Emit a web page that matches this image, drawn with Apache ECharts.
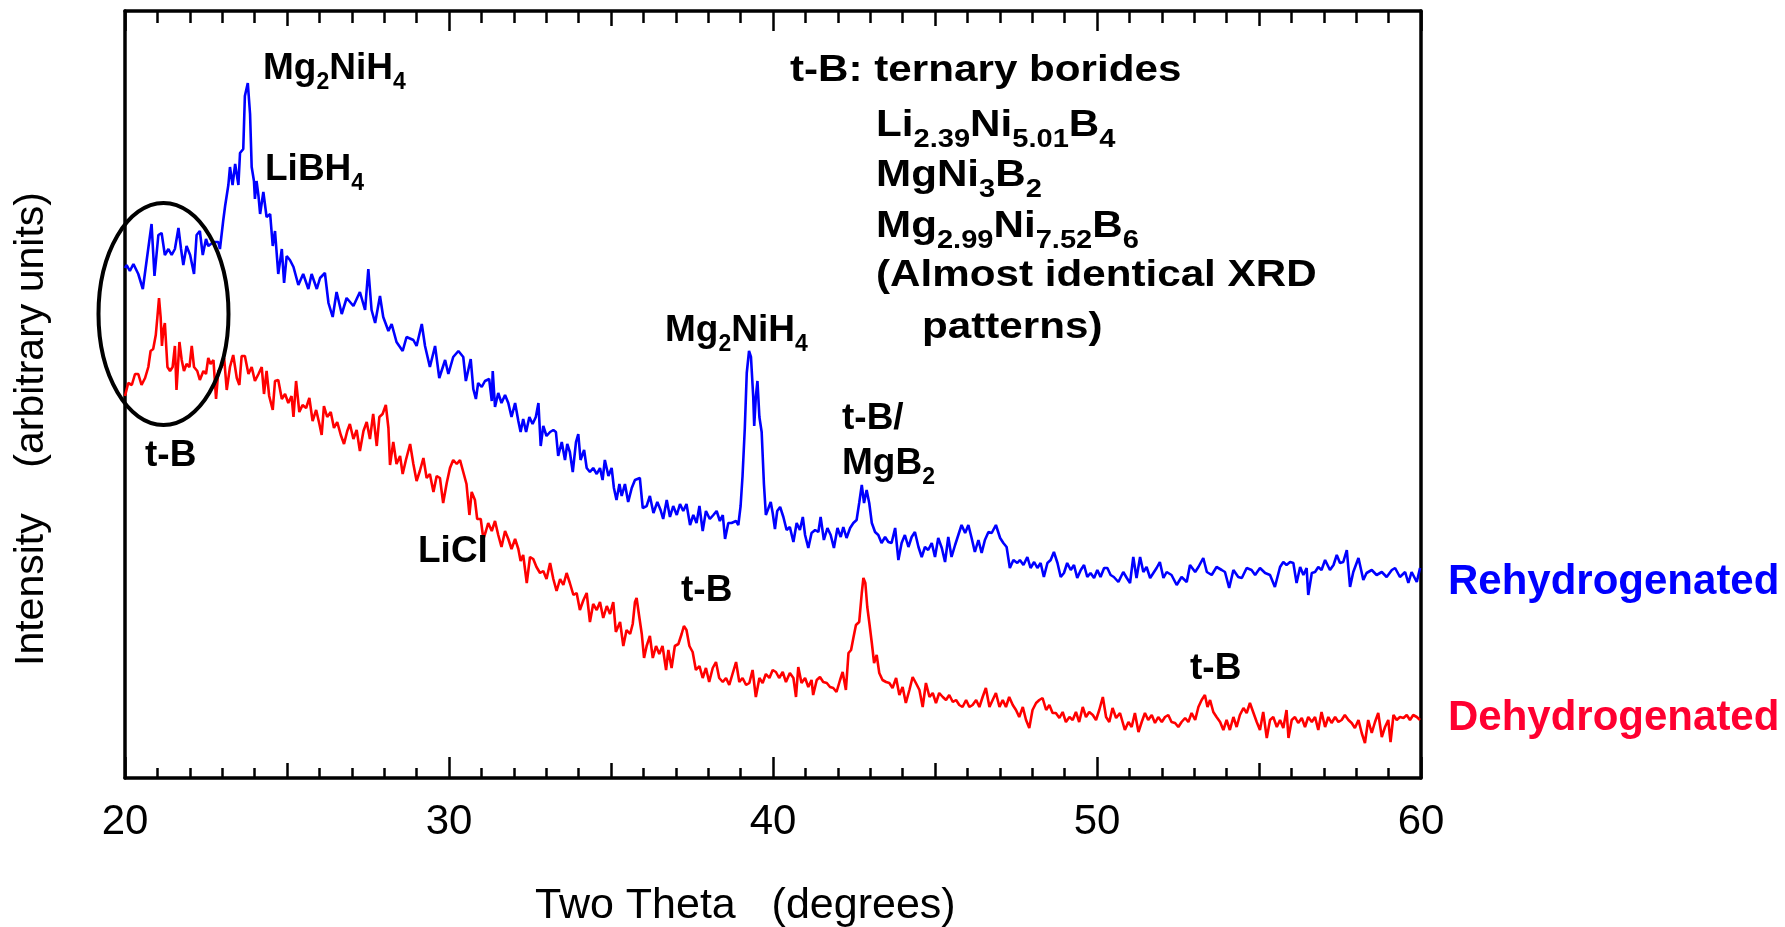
<!DOCTYPE html>
<html>
<head>
<meta charset="utf-8">
<script src="https://cdn.jsdelivr.net/npm/echarts/dist/echarts.min.js"></script>
<style>html,body{margin:0;padding:0;background:#fff}#c{width:1785px;height:927px}</style>
</head>
<body>
<div id="c"></div>
<script>
// ---- data (two theta in degrees, intensity in arbitrary units) ----
const thetaRange = [20, 60];
const xTickLabels = [20, 30, 40, 50, 60];

const rehydrogenated = [
[20.00,510],[20.05,513],[20.15,507],[20.26,514],[20.41,504],[20.55,489],[20.67,518],[20.82,554],[20.91,502],[21.03,543],
[21.13,545],[21.23,523],[21.34,529],[21.44,523],[21.54,529],[21.65,550],[21.73,529],[21.80,513],[21.90,532],[22.01,523],
[22.13,504],[22.21,543],[22.31,547],[22.40,523],[22.50,539],[22.57,532],[22.73,536],[22.88,536],[22.93,529],[23.03,557],
[23.09,572],[23.19,593],[23.24,611],[23.32,593],[23.40,614],[23.50,593],[23.55,625],[23.65,629],[23.70,682],[23.79,695],
[23.86,664],[23.91,611],[23.98,597],[24.01,579],[24.06,597],[24.12,582],[24.17,564],[24.27,586],[24.37,561],[24.48,564],
[24.56,532],[24.63,547],[24.73,504],[24.84,529],[24.91,495],[24.99,522],[25.09,518],[25.20,511],[25.35,493],[25.50,504],
[25.66,489],[25.76,504],[25.92,489],[26.02,500],[26.17,505],[26.28,475],[26.41,461],[26.53,486],[26.69,464],[26.84,480],
[27.05,472],[27.25,486],[27.41,468],[27.51,509],[27.61,468],[27.72,455],[27.87,482],[27.97,461],[28.13,447],[28.23,454],
[28.38,436],[28.57,427],[28.69,441],[28.90,438],[29.00,432],[29.16,454],[29.26,432],[29.41,411],[29.57,432],[29.70,400],
[29.88,418],[29.98,404],
[30.03,403],[30.13,421],[30.29,427],[30.44,421],[30.52,397],[30.67,419],[30.75,389],[30.83,379],[30.90,395],[31.01,391],
[31.11,397],[31.24,399],[31.32,377],[31.35,407],[31.42,371],[31.52,385],[31.62,375],[31.73,383],[31.83,375],[31.93,361],
[32.04,375],[32.14,357],[32.21,346],[32.29,359],[32.38,346],[32.48,361],[32.58,354],[32.68,361],[32.76,375],[32.83,332],
[32.91,352],[33.01,342],[33.12,346],[33.22,348],[33.30,346],[33.37,322],[33.48,336],[33.58,318],[33.65,334],[33.73,326],
[33.82,306],[33.92,336],[33.99,344],[34.06,318],[34.17,328],[34.25,310],[34.35,306],[34.45,310],[34.56,304],[34.66,310],
[34.74,298],[34.81,318],[34.92,302],[35.02,310],[35.09,290],[35.17,278],[35.26,294],[35.33,282],[35.43,294],[35.53,276],
[35.64,290],[35.74,298],[35.89,300],[35.98,270],[36.10,272],[36.20,282],[36.31,265],[36.43,276],[36.53,268],[36.61,259],
[36.72,278],[36.82,261],[36.92,272],[37.03,263],[37.13,274],[37.23,267],[37.33,274],[37.44,253],[37.54,263],[37.64,255],
[37.73,272],[37.83,247],[37.93,267],[38.05,259],[38.16,263],[38.26,267],[38.36,257],[38.45,263],[38.52,239],[38.62,255],
[38.72,255],[38.86,257],[38.93,253],[39.00,272],[39.06,302],[39.13,350],[39.19,405],[39.26,427],[39.32,421],[39.39,381],
[39.42,352],[39.47,381],[39.52,397],[39.58,361],[39.65,346],[39.72,294],[39.78,263],[39.85,269],[39.93,276],[39.99,265],
[40.06,249],[40.13,267],
[40.22,271],[40.32,261],[40.42,248],[40.52,251],[40.63,236],[40.73,255],[40.83,248],[40.92,261],[40.99,243],[41.09,230],
[41.19,245],[41.30,248],[41.40,246],[41.47,261],[41.57,238],[41.68,250],[41.78,243],[41.88,230],[41.99,250],[42.09,241],
[42.17,251],[42.27,240],[42.38,250],[42.48,255],[42.58,258],[42.66,275],[42.74,293],[42.81,275],[42.89,288],[42.97,275],
[43.05,255],[43.15,246],[43.25,243],[43.35,235],[43.46,241],[43.56,236],[43.66,235],[43.77,250],[43.87,218],[43.97,235],
[44.07,243],[44.18,231],[44.28,241],[44.38,246],[44.49,231],[44.59,221],[44.69,231],[44.79,228],[44.90,235],[45.00,221],
[45.10,240],[45.21,230],[45.31,216],[45.41,241],[45.51,221],[45.62,233],[45.72,243],[45.82,253],[45.93,245],[46.03,253],
[46.13,240],[46.23,226],[46.34,238],[46.44,225],[46.54,238],[46.65,246],[46.75,245],[46.88,253],[47.01,240],[47.11,235],
[47.21,231],[47.31,210],[47.42,218],[47.54,215],[47.62,218],[47.73,213],[47.85,221],[47.95,210],[48.06,216],[48.16,210],
[48.26,215],[48.36,201],[48.47,215],[48.57,218],[48.67,226],[48.78,215],[48.88,201],[48.98,205],[49.08,215],[49.19,208],
[49.29,213],[49.39,200],[49.50,208],[49.60,213],[49.70,201],[49.80,205],[49.91,200],[50.01,208],[50.11,201],[50.22,210],
[50.32,210],[50.42,203],[50.52,201],[50.66,196],
[50.81,206],[50.92,200],[51.02,195],[51.12,221],[51.22,200],[51.33,221],[51.43,206],[51.53,211],[51.64,200],[51.74,205],
[51.84,210],[51.94,216],[52.05,200],[52.15,206],[52.30,203],[52.46,193],[52.61,201],[52.77,196],[52.87,213],[53.03,206],
[53.13,211],[53.28,220],[53.39,206],[53.54,203],[53.69,211],[53.85,208],[53.95,206],[54.08,190],[54.21,208],[54.36,201],
[54.47,200],[54.62,210],[54.77,208],[54.88,203],[55.03,210],[55.19,205],[55.34,203],[55.49,191],[55.65,211],[55.75,216],
[55.85,213],[55.96,216],[56.06,215],[56.16,195],[56.27,211],[56.37,203],[56.47,210],[56.52,183],[56.63,205],[56.73,206],
[56.83,211],[56.93,208],[57.04,218],[57.19,208],[57.30,213],[57.40,223],[57.50,215],[57.60,216],[57.71,228],[57.81,191],
[57.91,206],[58.07,220],[58.22,198],[58.32,205],[58.48,208],[58.63,203],[58.79,206],[58.94,201],[59.10,208],[59.20,210],
[59.35,201],[59.51,206],[59.61,195],[59.71,206],[59.87,196],[59.97,210]
];

const dehydrogenated = [
[20.00,382],[20.10,395],[20.21,393],[20.31,404],[20.41,404],[20.51,393],[20.62,400],[20.72,411],[20.79,427],[20.87,429],
[20.95,443],[21.00,461],[21.05,480],[21.10,461],[21.14,432],[21.18,447],[21.23,455],[21.31,411],[21.39,407],[21.47,411],
[21.54,432],[21.59,388],[21.68,436],[21.75,418],[21.82,407],[21.90,414],[21.99,411],[22.06,432],[22.13,411],[22.23,407],
[22.31,398],[22.42,407],[22.50,404],[22.57,420],[22.64,414],[22.73,418],[22.81,379],[22.88,407],[22.98,411],[23.06,420],
[23.14,388],[23.24,411],[23.34,423],[23.45,400],[23.53,393],[23.60,422],[23.70,422],[23.81,404],[23.91,411],[24.01,397],
[24.12,404],[24.22,411],[24.29,384],[24.37,407],[24.45,382],[24.56,368],[24.63,397],[24.73,398],[24.84,379],[24.94,384],
[25.04,375],[25.14,382],[25.20,361],[25.28,397],[25.38,366],[25.48,373],[25.59,370],[25.69,380],[25.79,357],[25.90,368],
[26.00,354],[26.07,343],[26.14,372],[26.24,361],[26.35,366],[26.45,350],[26.55,356],[26.66,343],[26.76,334],[26.86,347],
[26.94,354],[27.05,339],[27.15,348],[27.25,327],[27.36,347],[27.46,356],[27.56,339],[27.66,364],[27.77,332],[27.85,361],
[27.95,364],[28.05,373],[28.13,350],[28.18,313],[28.28,336],[28.38,314],[28.49,322],[28.57,304],[28.67,318],[28.80,334],
[28.90,314],[29.00,297],[29.10,307],[29.21,320],[29.31,300],[29.41,304],[29.52,286],[29.62,302],[29.72,300],[29.82,275],
[29.93,295],
[30.03,310],[30.13,318],[30.24,314],[30.34,318],[30.44,306],[30.54,294],[30.63,263],[30.70,286],[30.80,278],[30.87,259],
[30.98,259],[31.06,239],[31.14,247],[31.21,255],[31.32,247],[31.42,257],[31.52,243],[31.62,231],[31.73,247],[31.83,239],
[31.93,229],[32.04,239],[32.14,229],[32.21,217],[32.29,223],[32.40,195],[32.50,221],[32.60,219],[32.70,211],[32.81,205],
[32.91,207],[33.01,199],[33.12,215],[33.22,199],[33.32,187],[33.43,199],[33.53,193],[33.63,205],[33.73,195],[33.84,183],
[33.94,185],[34.04,168],[34.15,178],[34.25,185],[34.35,156],[34.45,174],[34.56,168],[34.66,176],[34.76,160],[34.87,172],
[34.97,164],[35.07,176],[35.15,146],[35.28,156],[35.38,132],[35.48,148],[35.59,144],[35.67,154],[35.74,176],[35.79,180],
[35.86,164],[35.95,144],[36.02,120],[36.10,132],[36.20,142],[36.29,120],[36.39,132],[36.49,124],[36.59,132],[36.70,108],
[36.77,128],[36.87,110],[36.97,132],[37.08,134],[37.18,144],[37.25,152],[37.33,148],[37.42,132],[37.52,126],[37.62,108],
[37.73,112],[37.83,100],[37.93,110],[38.03,96],[38.14,110],[38.24,116],[38.34,100],[38.45,96],[38.55,100],[38.65,93],
[38.75,104],[38.86,116],[38.96,96],[39.06,100],[39.17,93],[39.27,95],[39.37,108],[39.47,81],[39.58,100],[39.68,95],
[39.78,104],[39.89,100],[39.99,108],[40.09,106],[40.19,100],[40.30,106],[40.40,96],
[40.52,105],[40.63,100],[40.71,81],[40.78,111],[40.88,95],[40.99,100],[41.09,91],[41.19,98],[41.24,83],[41.35,98],
[41.45,101],[41.55,96],[41.66,95],[41.76,91],[41.86,90],[41.96,86],[42.07,98],[42.15,106],[42.25,88],[42.33,125],
[42.41,128],[42.48,140],[42.56,153],[42.66,156],[42.74,185],[42.79,200],[42.85,195],[42.91,171],[42.97,156],[43.05,135],
[43.12,115],[43.20,123],[43.28,105],[43.38,98],[43.49,96],[43.59,95],[43.69,90],[43.80,100],[43.90,83],[44.00,91],
[44.10,75],[44.21,88],[44.31,101],[44.41,95],[44.52,88],[44.62,71],[44.72,95],[44.83,81],[44.93,85],[45.03,75],
[45.13,85],[45.24,81],[45.34,78],[45.44,83],[45.55,76],[45.65,78],[45.75,73],[45.85,71],[45.96,78],[46.06,71],
[46.16,73],[46.27,78],[46.37,71],[46.47,81],[46.57,90],[46.68,71],[46.78,78],[46.88,85],[46.99,71],[47.09,78],
[47.19,71],[47.29,81],[47.40,73],[47.50,68],[47.60,61],[47.71,71],[47.81,58],[47.91,50],[48.01,68],[48.12,75],
[48.22,78],[48.32,80],[48.43,68],[48.53,73],[48.63,65],[48.73,65],[48.84,60],[48.94,66],[49.04,56],[49.15,61],
[49.25,58],[49.35,66],[49.45,56],[49.56,71],[49.66,61],[49.76,66],[49.87,63],[49.97,58],[50.07,68],[50.18,81],
[50.28,61],[50.38,56],[50.48,70],[50.59,60],
[50.71,65],[50.86,48],[50.97,56],[51.07,51],[51.17,65],[51.28,46],[51.38,56],[51.48,65],[51.58,58],[51.69,63],
[51.79,55],[51.89,61],[52.00,56],[52.10,61],[52.20,63],[52.30,56],[52.41,55],[52.51,51],[52.61,56],[52.72,60],
[52.82,56],[52.92,65],[53.03,58],[53.13,71],[53.23,78],[53.33,83],[53.41,71],[53.49,78],[53.59,66],[53.69,61],
[53.80,56],[53.90,48],[54.00,58],[54.10,48],[54.21,61],[54.31,51],[54.41,63],[54.52,70],[54.62,65],[54.72,75],
[54.83,65],[54.93,56],[55.03,48],[55.13,66],[55.24,40],[55.34,58],[55.44,61],[55.55,51],[55.65,58],[55.75,50],
[55.85,68],[55.91,40],[56.01,58],[56.11,61],[56.21,55],[56.32,60],[56.42,51],[56.52,61],[56.63,56],[56.73,61],
[56.83,48],[56.93,66],[57.04,51],[57.14,61],[57.24,55],[57.35,61],[57.45,56],[57.55,58],[57.65,63],[57.76,58],
[57.86,55],[57.96,50],[58.07,58],[58.17,45],[58.27,35],[58.37,58],[58.48,45],[58.58,56],[58.68,65],[58.79,41],
[58.89,51],[58.99,58],[59.06,36],[59.15,63],[59.25,58],[59.35,61],[59.46,60],[59.56,63],[59.66,58],[59.76,63],
[59.87,61],[59.97,58]
];

// ---- chart ----
const FONT = "'Liberation Sans', Arial, Helvetica, sans-serif";
const BLUE = '#0000ff', RED = '#ff0000';
const chart = echarts.init(document.getElementById('c'), null, {renderer: 'canvas'});
const G = {left: 125, top: 11, width: 1296, height: 767, containLabel: false, outerBoundsMode: 'none'};
const axisLine = {show: true, onZero: false, lineStyle: {color: '#000', width: 3.5}};
const tickStyle = {color: '#000', width: 2.5};

function xAxisDef(gridIndex, position, interval, tickLen, minorLen, showLine, showLabel) {
  return {
    gridIndex, type: 'value', position, min: thetaRange[0], max: thetaRange[1], interval,
    axisLine: showLine ? axisLine : {show: false, onZero: false},
    axisTick: {show: true, inside: true, length: tickLen, lineStyle: tickStyle},
    minorTick: {show: minorLen > 0, splitNumber: 10, length: minorLen, lineStyle: tickStyle},
    axisLabel: {show: showLabel, margin: 23, fontSize: 42, fontFamily: FONT, color: '#000',
      showMinLabel: true, showMaxLabel: true,
      formatter: v => (xTickLabels.indexOf(v) >= 0 ? String(v) : '')},
    splitLine: {show: false}, minorSplitLine: {show: false}
  };
}
function yAxisDef(gridIndex, position, show) {
  return {gridIndex, type: 'value', position, min: 0, max: 767, show,
    axisLine: axisLine, axisTick: {show: false}, axisLabel: {show: false},
    splitLine: {show: false}};
}

function richLabel(x, baseline, text, o) {
  const color = o.color || '#000';
  return {
    type: 'text', x: x, y: baseline - 0.3465 * o.F, scaleX: o.sx || 1, z: 100,
    style: {
      text: text, align: 'left', verticalAlign: 'middle',
      rich: {
        n: {fontSize: o.F, fontWeight: 'bold', fontFamily: FONT, fill: color, lineHeight: o.L, verticalAlign: 'middle'},
        s: {fontSize: o.S, fontWeight: 'bold', fontFamily: FONT, fill: color, lineHeight: o.S, verticalAlign: 'bottom'}
      }
    }
  };
}
const ANN = {F: 37, S: 23, L: 49, sx: 1.0};
const LEG = {F: 37, S: 25.5, L: 54, sx: 1.14};
const SIDE = {F: 42, S: 24, L: 50, sx: 1.0};

const graphics = [
  {type: 'ellipse', z: 100, shape: {cx: 163.5, cy: 314, rx: 65, ry: 111},
   style: {fill: 'none', stroke: '#000', lineWidth: 4}},
  richLabel(263, 82, '{n|Mg}{s|2}{n|NiH}{s|4}', ANN),
  richLabel(265, 183, '{n|LiBH}{s|4}', ANN),
  richLabel(145, 469, '{n|t-B}', ANN),
  richLabel(418, 565, '{n|LiCl}', ANN),
  richLabel(665, 344, '{n|Mg}{s|2}{n|NiH}{s|4}', ANN),
  richLabel(842, 432, '{n|t-B/}', ANN),
  richLabel(842, 477, '{n|MgB}{s|2}', ANN),
  richLabel(681, 604, '{n|t-B}', ANN),
  richLabel(1190, 682, '{n|t-B}', ANN),
  richLabel(790, 84, '{n|t-B: ternary borides}', LEG),
  richLabel(876, 139, '{n|Li}{s|2.39}{n|Ni}{s|5.01}{n|B}{s|4}', LEG),
  richLabel(876, 189, '{n|MgNi}{s|3}{n|B}{s|2}', LEG),
  richLabel(876, 240, '{n|Mg}{s|2.99}{n|Ni}{s|7.52}{n|B}{s|6}', LEG),
  richLabel(876, 289, '{n|(Almost identical XRD}', LEG),
  richLabel(922, 341, '{n|patterns)}', LEG),
  richLabel(1448, 597, '{n|Rehydrogenated}', Object.assign({color: '#0000ff'}, SIDE)),
  richLabel(1448, 733, '{n|Dehydrogenated}', Object.assign({color: '#ff0030'}, SIDE)),
  {type: 'text', x: 535, y: 906, z: 100,
   style: {text: 'Two Theta   (degrees)', fontSize: 43, fontFamily: FONT, fill: '#000', align: 'left', verticalAlign: 'middle'}},
  {type: 'text', x: 32, y: 429, rotation: Math.PI / 2, z: 100,
   style: {text: 'Intensity    (arbitrary units)', fontSize: 41, fontFamily: FONT, fill: '#000', align: 'center', verticalAlign: 'middle'}}
];

chart.setOption({
  animation: false,
  backgroundColor: '#fff',
  grid: [Object.assign({}, G), Object.assign({}, G)],
  xAxis: [
    xAxisDef(0, 'bottom', 10, 21, 10, true, true),
    xAxisDef(0, 'top', 10, 20, 12, true, false),
    xAxisDef(1, 'bottom', 5, 15, 0, false, false),
    xAxisDef(1, 'top', 5, 15, 0, false, false)
  ],
  yAxis: [yAxisDef(0, 'left', true), yAxisDef(0, 'right', true), yAxisDef(1, 'left', false)],
  series: [
    {type: 'line', name: 'Rehydrogenated', xAxisIndex: 0, yAxisIndex: 0, data: rehydrogenated,
     showSymbol: false, symbol: 'none', lineStyle: {color: BLUE, width: 2.6}, itemStyle: {color: BLUE}, z: 3},
    {type: 'line', name: 'Dehydrogenated', xAxisIndex: 0, yAxisIndex: 0, data: dehydrogenated,
     showSymbol: false, symbol: 'none', lineStyle: {color: RED, width: 2.6}, itemStyle: {color: RED}, z: 3}
  ],
  graphic: {elements: graphics}
});
</script>
</body>
</html>
